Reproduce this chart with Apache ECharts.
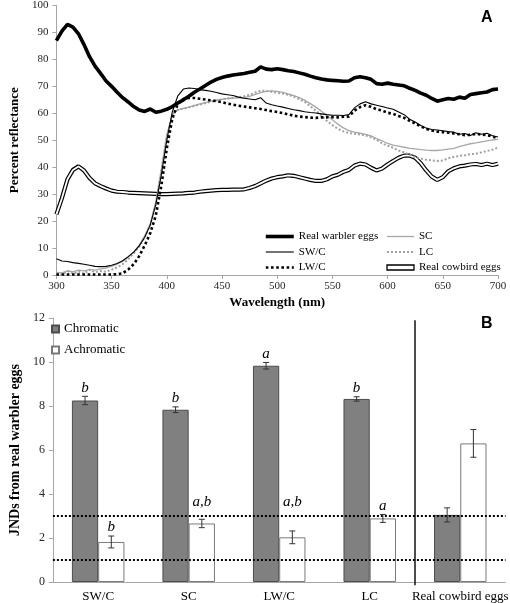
<!DOCTYPE html>
<html><head><meta charset="utf-8">
<script src="https://cdn.jsdelivr.net/npm/echarts@6/dist/echarts.min.js"></script>
<style>html,body{margin:0;padding:0;background:#fff}#c{width:510px;height:603px}</style>
</head><body><div id="c"></div>
<script>
// ---------- Panel A data (wavelength in nm, percent reflectance) ----------
const wavelengths = [300,305,310,315,320,325,330,335,340,345,350,355,360,365,370,375,380,385,390,395,
  400,405,410,415,420,425,430,435,440,445,450,455,460,465,470,475,480,485,490,495,
  500,505,510,515,520,525,530,535,540,545,550,555,560,565,570,575,580,585,590,595,
  600,605,610,615,620,625,630,635,640,645,650,655,660,665,670,675,680,685,690,695,700];

const warbler = [87,90.5,93,92,89.5,85.5,81,77.5,74.8,72,70,67.8,65.8,64.2,62.5,61.2,60.7,61.6,60.4,60.8,
  61.5,62.5,63.8,65,66.3,67.8,69,70.3,71.6,72.6,73.3,73.8,74.2,74.5,74.8,75.2,75.6,77.2,76.4,76.2,
  76.5,76.2,75.8,75.5,75,74.5,73.8,73.2,72.7,72.4,72.2,72.1,71.9,72,73.2,73.6,73.2,72.6,71,70.8,
  71.2,70.8,70.5,70.2,69.3,68.5,67.5,66.7,65.5,64.5,65,65.5,65.2,66,65.6,67,67.3,67.6,67.9,68.8,69];

const swc = [6,5.2,5,4.6,4.3,4,3.6,3.2,3.1,3.2,3.6,4.3,5.3,6.8,8.5,10.8,14,18.5,26,37,
  50,60.5,66.5,69,69.4,69.2,68.8,68.5,68.2,67.7,67.2,66.9,66.6,66,65.6,65.3,65,65.8,63.8,63.2,
  62.7,62.3,61.8,61.3,61,60.6,60.3,60.1,59.8,59.5,59.3,59.3,59.2,59.5,62,63.5,64.3,63.5,63,62.5,
  62,61.5,60.5,59.5,57.8,56.8,55.5,54.5,54,53.8,53.5,53.2,53,52.2,52.5,51.8,52.8,52.2,52.6,51.7,51.2];

const lwc = [0.2,0.2,0.2,0.2,0.2,0.2,0.2,0.2,0.2,0.2,0.2,0.3,0.6,2,4,7,11,15.5,22,33,
  47,58,63.5,65.3,65.7,65.7,65.4,65.1,64.8,64.5,64.1,63.6,63.2,62.8,62.5,62.2,61.9,61.6,61.2,60.8,
  60.5,60.1,59.6,59.1,58.8,58.6,58.4,58.3,58.5,58.5,58.6,58.5,58.7,58.8,61,62.3,63,62.4,61.5,61,
  60.2,59.8,59,58.3,57.2,56.2,55.2,54.2,53.6,53.2,53,52.8,52.5,52.2,51.9,52,52.4,52.1,51.9,51.4,50.8];

const sc = [1,0.8,1.5,1.2,1.8,1.5,2,1.8,2.3,2.6,3.2,4,5,6.5,8.5,11,14.5,19,27,39,
  52,59.5,61.3,61.8,62.3,62.9,63.5,64,64.5,64.9,65.2,65.5,65.6,65.7,65.8,66.3,67,67.7,68.1,68.3,
  68.1,67.8,67.2,66.6,65.8,64.8,63.6,62.3,60.8,59.2,57.6,55.9,54.6,53.6,53,52.6,52.2,51.6,50.6,49.8,
  48.8,48.2,47.8,47.4,47,46.8,46.5,46.3,46.2,46.2,46.4,46.7,47,47.6,48.2,48.7,49,49.4,49.8,50.1,50.3];

const lc = [0.3,0.2,1.5,0.5,1.3,0.5,2,1,1.5,1.2,2,2.8,4,5.8,8,10.5,14,18.5,26.5,38.5,
  51.5,59.5,61.3,61.7,62.2,62.7,63.2,63.8,64.3,64.8,65.2,65.5,65.8,66,66.3,66.9,67.7,68.4,68.3,68,
  67.6,67.3,66.9,66.2,65.2,64.2,62.6,61,59.2,57.2,55.6,54.2,53.3,52.7,52.4,52.1,51.8,51.1,50.2,48.8,
  48,47.2,46.2,45.5,44.6,43.8,43.2,42.8,42.5,42.3,42.5,43.3,43.8,44.2,44.4,44.8,45,45.5,46,46.5,47.3];

const cowbird = [22.5,28.5,35.5,39,40.3,38.8,36,34,33,32.1,31.3,30.9,30.8,30.6,30.5,30.4,30.3,30.2,30.1,30,
  30,30.1,30.2,30.3,30.5,30.6,30.9,31.1,31.3,31.5,31.6,31.6,31.7,31.7,31.8,32.3,33,34,35,35.8,
  36.3,36.6,37,36.8,36.3,35.8,35.3,34.9,34.9,35.5,36.6,37.2,38.3,39,40.6,41.3,41,39.8,38.8,39.5,
  41,42.3,43.5,44.3,44.3,43.5,41.5,38.8,36.5,35.3,36.3,38.5,39.6,40.3,40.6,41,41.2,40.8,41.3,40.8,41.3];

// ---------- Panel B data (JNDs) ----------
const categories = ['SW/C','SC','LW/C','LC','Real cowbird eggs'];
const chromatic = [8.25,7.83,9.83,8.32,3.05];
const chromaticErr = [0.19,0.13,0.15,0.10,0.32];
const achromatic = [1.82,2.66,2.03,2.89,6.30];
const achromaticErr = [0.27,0.19,0.29,0.18,0.63];
const chromaticLetters = ['b','b','a','b',''];
const achromaticLetters = ['b','a,b','a,b','a',''];
const thresholds = [1, 3];
const separatorAt = 4; // boundary between LC and Real cowbird eggs (category units)

// ---------- styling / layout ----------
const SERIF = '"Liberation Serif","Times New Roman",serif';
const SANS = '"Liberation Sans",Arial,sans-serif';
const AXIS_GREY = '#a6a6a6';
const GAP = 0.42;
const letterFloor = {achromatic: {1: 3.25, 2: 3.25}};

const styles = {
  'Real warbler eggs': {color:'#000', width:3.6, type:'solid'},
  'SW/C': {color:'#000', width:1.1, type:'solid'},
  'LW/C': {color:'#000', width:2.6, type:[2.6,2.6]},
  'SC': {color:'#a8a8a8', width:1.3, type:'solid'},
  'LC': {color:'#a0a0a0', width:2, type:[2,2]}
};

function pairs(ys){ return wavelengths.map((w,i)=>[w, ys[i]]); }

function errRender(vals, errs, letters, side, floorMap){
  return function(params, api){
    const i = api.value(0), v = api.value(1), e = api.value(2);
    const band = api.size([1,0])[0];
    const bw = band*(1-GAP)/2;
    const pTop = api.coord([i, v+e]);
    const pBot = api.coord([i, v-e]);
    const x = pTop[0] + side*bw/2;
    const cap = 3;
    const st = {stroke:'#333', lineWidth:1};
    const ch = [
      {type:'line', shape:{x1:x,y1:pTop[1],x2:x,y2:pBot[1]}, style:st},
      {type:'line', shape:{x1:x-cap,y1:pTop[1],x2:x+cap,y2:pTop[1]}, style:st},
      {type:'line', shape:{x1:x-cap,y1:pBot[1],x2:x+cap,y2:pBot[1]}, style:st}
    ];
    const t = letters[i];
    if (t){
      let ly = pTop[1];
      if (floorMap && floorMap[i] != null) ly = Math.min(ly, api.coord([i, floorMap[i]])[1]);
      ch.push({type:'text', style:{text:t, x:x, y:ly-1, textAlign:'center', textVerticalAlign:'bottom',
        font:'italic 15px ' + SERIF, fill:'#000'}});
    }
    return {type:'group', children:ch};
  };
}

function lineSeries(name, ys, z){
  const s = styles[name];
  return {name, type:'line', xAxisIndex:0, yAxisIndex:0, data:pairs(ys), z,
    showSymbol:false, symbol:'none', itemStyle:{color:s.color},
    lineStyle:{color:s.color, width:s.width, type:s.type}};
}
function legendItem(name){
  const s = styles[name];
  return {name, lineStyle:{color:s.color, width:s.width, type:s.type}, itemStyle:{opacity:0}};
}

const axisLabelStyle = {fontFamily:SERIF, color:'#262626'};
const lineLegendText = {fontFamily:SERIF, fontSize:11, color:'#000', lineHeight:13};

const option = {
  animation:false,
  backgroundColor:'#fff',
  title:[
    {text:'A', left:481, top:10, padding:0, textStyle:{fontFamily:SANS, fontWeight:'bold', fontSize:16, color:'#000'}},
    {text:'B', left:481, top:316, padding:0, textStyle:{fontFamily:SANS, fontWeight:'bold', fontSize:16, color:'#000'}}
  ],
  legend:[
    {left:264, top:230, padding:0, orient:'vertical', itemWidth:28, itemHeight:6, itemGap:2.5,
     itemStyle:{opacity:0}, textStyle:lineLegendText,
     data:['Real warbler eggs','SW/C','LW/C'].map(legendItem)},
    {left:386, top:230, padding:0, orient:'vertical', itemWidth:27, itemHeight:5, itemGap:2.5,
     itemStyle:{opacity:0}, textStyle:lineLegendText,
     data:['SC','LC'].map(legendItem).concat([{name:'Real cowbird eggs', icon:'rect',
       itemStyle:{color:'#fff', borderColor:'#000', borderWidth:1.3, opacity:1}}])},
    {left:51, top:322, padding:0, orient:'vertical', itemWidth:7, itemHeight:7, itemGap:7, icon:'rect',
     textStyle:{fontFamily:SERIF, fontSize:13, color:'#000', lineHeight:14},
     data:['Chromatic','Achromatic']}
  ],
  grid:[
    {left:39, right:12, top:5, height:270},
    {left:39, right:2, top:318, height:264}
  ],
  xAxis:[
    {type:'value', gridIndex:0, min:300, max:700, interval:50,
     name:'Wavelength (nm)', nameLocation:'middle', nameGap:21,
     nameTextStyle:{fontFamily:SERIF, fontWeight:'bold', fontSize:13, color:'#000'},
     axisLine:{lineStyle:{color:AXIS_GREY}}, axisTick:{length:4, lineStyle:{color:AXIS_GREY}},
     axisLabel:Object.assign({fontSize:11, margin:6}, axisLabelStyle), splitLine:{show:false}},
    {type:'category', gridIndex:1, data:categories,
     axisLine:{lineStyle:{color:AXIS_GREY}}, axisTick:{length:4, lineStyle:{color:AXIS_GREY}},
     axisLabel:{fontSize:13, margin:8, color:'#000', fontFamily:SERIF, interval:0}},
    {type:'value', gridIndex:1, min:0, max:5, show:false}
  ],
  yAxis:[
    {type:'value', gridIndex:0, min:0, max:100, interval:10,
     name:'Percent reflectance', nameLocation:'middle', nameGap:26, nameRotate:90,
     nameTextStyle:{fontFamily:SERIF, fontWeight:'bold', fontSize:13, color:'#000'},
     axisLine:{show:true, lineStyle:{color:AXIS_GREY}}, axisTick:{show:true, length:4, lineStyle:{color:AXIS_GREY}},
     axisLabel:Object.assign({fontSize:11, margin:8}, axisLabelStyle), splitLine:{show:false}},
    {type:'value', gridIndex:1, min:0, max:12, interval:2,
     name:'JNDs from real warbler eggs', nameLocation:'middle', nameGap:24, nameRotate:90,
     nameTextStyle:{fontFamily:SERIF, fontWeight:'bold', fontSize:14, color:'#000'},
     axisLine:{show:true, lineStyle:{color:AXIS_GREY}}, axisTick:{show:true, length:4, lineStyle:{color:AXIS_GREY}},
     axisLabel:Object.assign({fontSize:12, margin:8}, axisLabelStyle), splitLine:{show:false}}
  ],
  series:[
    {name:'Real cowbird eggs outline', type:'line', xAxisIndex:0, yAxisIndex:0, data:pairs(cowbird),
     showSymbol:false, symbol:'none', lineStyle:{color:'#000', width:4.2}, z:2},
    {name:'Real cowbird eggs inner', type:'line', xAxisIndex:0, yAxisIndex:0, data:pairs(cowbird),
     showSymbol:false, symbol:'none', lineStyle:{color:'#fff', width:1.8}, z:3},
    {name:'Real cowbird eggs', type:'scatter', xAxisIndex:0, yAxisIndex:0, data:[],
     itemStyle:{color:'#fff', borderColor:'#000', borderWidth:1.3}},
    lineSeries('SC', sc, 4),
    lineSeries('LC', lc, 4),
    lineSeries('LW/C', lwc, 5),
    lineSeries('SW/C', swc, 6),
    lineSeries('Real warbler eggs', warbler, 7),

    {name:'Chromatic', type:'bar', xAxisIndex:1, yAxisIndex:1, data:chromatic,
     barGap:'0%', barCategoryGap:(GAP*100)+'%',
     itemStyle:{color:'#808080', borderColor:'#4d4d4d', borderWidth:1}, z:3},
    {name:'Achromatic', type:'bar', xAxisIndex:1, yAxisIndex:1, data:achromatic,
     barGap:'0%', barCategoryGap:(GAP*100)+'%',
     itemStyle:{color:'#fff', borderColor:'#7a7a7a', borderWidth:1}, z:3},
    {type:'custom', xAxisIndex:1, yAxisIndex:1, z:5,
     data:chromatic.map((v,i)=>[i, v, chromaticErr[i]]), encode:{x:0, y:1},
     renderItem:errRender(chromatic, chromaticErr, chromaticLetters, -1, null)},
    {type:'custom', xAxisIndex:1, yAxisIndex:1, z:5,
     data:achromatic.map((v,i)=>[i, v, achromaticErr[i]]), encode:{x:0, y:1},
     renderItem:errRender(achromatic, achromaticErr, achromaticLetters, 1, letterFloor.achromatic)},
    {type:'line', xAxisIndex:2, yAxisIndex:1, z:2, clip:false, symbol:'none', silent:true,
     data:[[separatorAt, -0.15], [separatorAt, 11.9]],
     lineStyle:{color:'#000', width:1.4},
     markLine:{silent:true, symbol:['none','none'], label:{show:false},
       lineStyle:{color:'#000', type:[2,2], width:1.8},
       data:thresholds.map(t=>({yAxis:t}))}}
  ]
};
const chart = echarts.init(document.getElementById('c'), null, {renderer:'canvas'});
chart.setOption(option);
</script></body></html>
